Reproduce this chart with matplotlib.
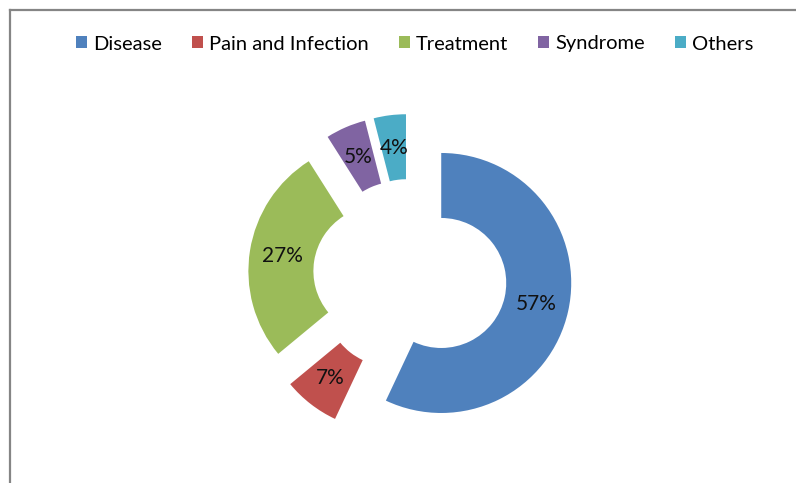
import matplotlib.pyplot as plt
from matplotlib.lines import Line2D
from matplotlib.patches import Patch

categories = ["Disease", "Pain and Infection", "Treatment", "Syndrome", "Others"]
shares = [57, 7, 27, 5, 4]
colors = ["#4F81BD", "#C0504D", "#9BBB59", "#8064A2", "#4BACC6"]

plt.rcParams["font.family"] = ["Lato", "DejaVu Sans"]

fig = plt.figure(figsize=(7.96, 4.83), dpi=100)
ax = fig.add_axes([0, 0, 1, 1])

# donut in pixel units, every slice pulled out a bit
wedges, texts, autotexts = ax.pie(
    shares,
    colors=colors,
    radius=130,
    center=(410, 207),
    startangle=90,
    counterclock=False,
    explode=[32] * len(shares),
    autopct="%d%%",
    pctdistance=0.75,
    wedgeprops=dict(width=65, edgecolor="none"),
    textprops=dict(fontsize=15, color="#111111"),
    frame=True,
)
ax.set_xlim(0, 796)
ax.set_ylim(0, 483)
ax.set_aspect("auto")
ax.axis("off")

handles = [Patch(facecolor=c, edgecolor="none") for c in colors]
fig.legend(
    handles, categories,
    loc="center", bbox_to_anchor=(0.521, 1 - 44 / 483), ncol=5,
    frameon=False, fontsize=14.5,
    handlelength=0.55, handleheight=0.55, handletextpad=0.3, columnspacing=1.5,
)

# chart area border (only top and left are inside the crop)
fig.add_artist(Line2D([9.5 / 796, 1], [1 - 9.5 / 483] * 2, color="#858585", lw=1.6))
fig.add_artist(Line2D([9.5 / 796] * 2, [0, 1 - 9.5 / 483], color="#858585", lw=1.6))

fig.savefig("out.png", dpi=100, facecolor="white")
